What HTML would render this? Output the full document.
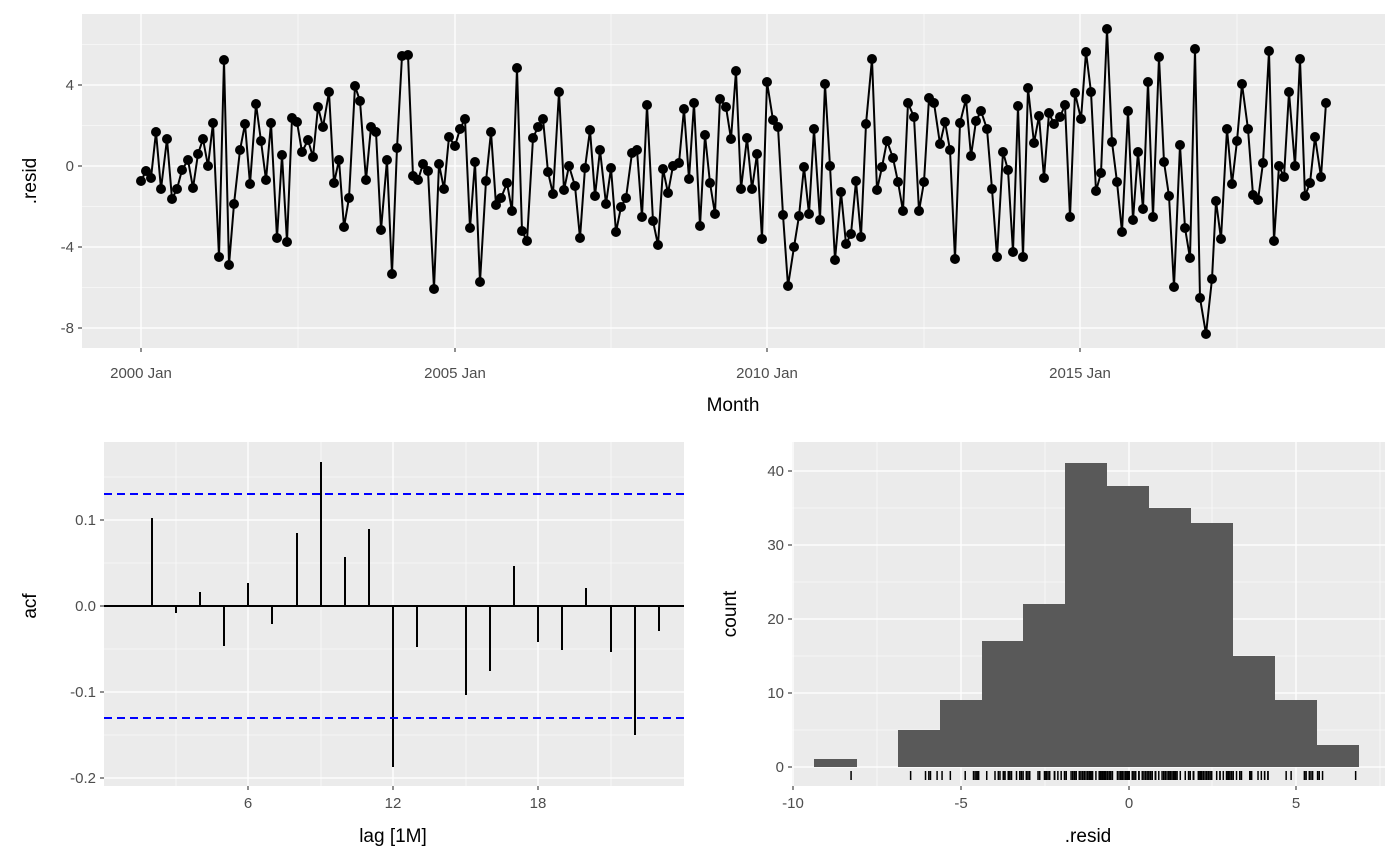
<!DOCTYPE html>
<html><head><meta charset="utf-8"><style>
html,body{margin:0;padding:0;background:#fff;}
svg{display:block;font-family:"Liberation Sans",sans-serif;}
.tk{font-size:15px;fill:#4d4d4d;}
.ti{font-size:19px;fill:#000;}
</style></head><body>
<svg id="s" width="1400" height="866" viewBox="0 0 1400 866" xmlns="http://www.w3.org/2000/svg">
<!-- top panel -->
<rect x="82" y="14" width="1303" height="334" fill="#ebebeb"/>
<g stroke="#fff" stroke-width="0.6">
<line x1="82" x2="1385" y1="44.5" y2="44.5"/><line x1="82" x2="1385" y1="125.5" y2="125.5"/><line x1="82" x2="1385" y1="206.5" y2="206.5"/><line x1="82" x2="1385" y1="287.5" y2="287.5"/>
<line y1="14" y2="348" x1="298" x2="298"/><line y1="14" y2="348" x1="611" x2="611"/><line y1="14" y2="348" x1="924" x2="924"/><line y1="14" y2="348" x1="1237" x2="1237"/>
</g>
<g stroke="#fff" stroke-width="1.3">
<line x1="82" x2="1385" y1="85" y2="85"/><line x1="82" x2="1385" y1="166" y2="166"/><line x1="82" x2="1385" y1="247" y2="247"/><line x1="82" x2="1385" y1="328" y2="328"/>
<line y1="14" y2="348" x1="141" x2="141"/><line y1="14" y2="348" x1="455" x2="455"/><line y1="14" y2="348" x1="767" x2="767"/><line y1="14" y2="348" x1="1080" x2="1080"/>
</g>
<g id="ts"></g>
<g stroke="#333" stroke-width="1.1">
<line x1="78" x2="82" y1="85" y2="85"/><line x1="78" x2="82" y1="166" y2="166"/><line x1="78" x2="82" y1="247" y2="247"/><line x1="78" x2="82" y1="328" y2="328"/>
<line y1="348" y2="352" x1="141" x2="141"/><line y1="348" y2="352" x1="455" x2="455"/><line y1="348" y2="352" x1="767" x2="767"/><line y1="348" y2="352" x1="1080" x2="1080"/>
</g>
<g class="tk" text-anchor="end">
<text x="74" y="90">4</text><text x="74" y="171">0</text><text x="74" y="252">-4</text><text x="74" y="333">-8</text>
</g>
<g class="tk" text-anchor="middle">
<text x="141" y="378">2000 Jan</text><text x="455" y="378">2005 Jan</text><text x="767" y="378">2010 Jan</text><text x="1080" y="378">2015 Jan</text>
</g>
<text class="ti" x="733" y="411" text-anchor="middle">Month</text>
<text class="ti" transform="translate(36,181) rotate(-90)" text-anchor="middle">.resid</text>

<!-- ACF panel -->
<rect x="104" y="442" width="580" height="344" fill="#ebebeb"/>
<g stroke="#fff" stroke-width="0.6">
<line x1="104" x2="684" y1="477" y2="477"/><line x1="104" x2="684" y1="563" y2="563"/><line x1="104" x2="684" y1="649" y2="649"/><line x1="104" x2="684" y1="735" y2="735"/>
<line y1="442" y2="786" x1="176" x2="176"/><line y1="442" y2="786" x1="321" x2="321"/><line y1="442" y2="786" x1="466" x2="466"/><line y1="442" y2="786" x1="611" x2="611"/>
</g>
<g stroke="#fff" stroke-width="1.3">
<line x1="104" x2="684" y1="520" y2="520"/><line x1="104" x2="684" y1="606" y2="606"/><line x1="104" x2="684" y1="692" y2="692"/><line x1="104" x2="684" y1="778" y2="778"/>
<line y1="442" y2="786" x1="248" x2="248"/><line y1="442" y2="786" x1="393" x2="393"/><line y1="442" y2="786" x1="538" x2="538"/>
</g>
<line x1="104" x2="684" y1="606" y2="606" stroke="#000" stroke-width="2"/>
<g stroke="#000" stroke-width="2">
<line x1="152" x2="152" y1="606" y2="518"/><line x1="176" x2="176" y1="606" y2="613"/><line x1="200" x2="200" y1="606" y2="592"/><line x1="224" x2="224" y1="606" y2="646"/><line x1="248" x2="248" y1="606" y2="583"/><line x1="272" x2="272" y1="606" y2="624"/><line x1="297" x2="297" y1="606" y2="533"/><line x1="321" x2="321" y1="606" y2="462"/><line x1="345" x2="345" y1="606" y2="557"/><line x1="369" x2="369" y1="606" y2="529"/><line x1="393" x2="393" y1="606" y2="767"/><line x1="417" x2="417" y1="606" y2="647"/><line x1="466" x2="466" y1="606" y2="695"/><line x1="490" x2="490" y1="606" y2="671"/><line x1="514" x2="514" y1="606" y2="566"/><line x1="538" x2="538" y1="606" y2="642"/><line x1="562" x2="562" y1="606" y2="650"/><line x1="586" x2="586" y1="606" y2="588"/><line x1="611" x2="611" y1="606" y2="652"/><line x1="635" x2="635" y1="606" y2="735"/><line x1="659" x2="659" y1="606" y2="631"/>
</g>
<g stroke="#0000ff" stroke-width="2" stroke-dasharray="8,5">
<line x1="104" x2="684" y1="494" y2="494"/><line x1="104" x2="684" y1="718" y2="718"/>
</g>
<g stroke="#333" stroke-width="1.1">
<line x1="100" x2="104" y1="520" y2="520"/><line x1="100" x2="104" y1="606" y2="606"/><line x1="100" x2="104" y1="692" y2="692"/><line x1="100" x2="104" y1="778" y2="778"/>
<line y1="786" y2="790" x1="248" x2="248"/><line y1="786" y2="790" x1="393" x2="393"/><line y1="786" y2="790" x1="538" x2="538"/>
</g>
<g class="tk" text-anchor="end">
<text x="96" y="525">0.1</text><text x="96" y="611">0.0</text><text x="96" y="697">-0.1</text><text x="96" y="783">-0.2</text>
</g>
<g class="tk" text-anchor="middle">
<text x="248" y="808">6</text><text x="393" y="808">12</text><text x="538" y="808">18</text>
</g>
<text class="ti" x="393" y="842" text-anchor="middle">lag [1M]</text>
<text class="ti" transform="translate(36,606) rotate(-90)" text-anchor="middle">acf</text>

<!-- Histogram panel -->
<rect x="792" y="442" width="593" height="344" fill="#ebebeb"/>
<g stroke="#fff" stroke-width="0.6">
<line x1="792" x2="1385" y1="730" y2="730"/><line x1="792" x2="1385" y1="656" y2="656"/><line x1="792" x2="1385" y1="582" y2="582"/><line x1="792" x2="1385" y1="508" y2="508"/>
<line y1="442" y2="786" x1="877" x2="877"/><line y1="442" y2="786" x1="1045" x2="1045"/><line y1="442" y2="786" x1="1212" x2="1212"/><line y1="442" y2="786" x1="1380" x2="1380"/>
</g>
<g stroke="#fff" stroke-width="1.3">
<line x1="792" x2="1385" y1="767" y2="767"/><line x1="792" x2="1385" y1="693" y2="693"/><line x1="792" x2="1385" y1="619" y2="619"/><line x1="792" x2="1385" y1="545" y2="545"/><line x1="792" x2="1385" y1="471" y2="471"/>
<line y1="442" y2="786" x1="793" x2="793"/><line y1="442" y2="786" x1="961" x2="961"/><line y1="442" y2="786" x1="1129" x2="1129"/><line y1="442" y2="786" x1="1296" x2="1296"/>
</g>
<g fill="#595959">
<rect x="814" y="759" width="43" height="8"/>
<rect x="898" y="730" width="42" height="37"/>
<rect x="940" y="700" width="42" height="67"/>
<rect x="982" y="641" width="41" height="126"/>
<rect x="1023" y="604" width="42" height="163"/>
<rect x="1065" y="463" width="42" height="304"/>
<rect x="1107" y="486" width="42" height="281"/>
<rect x="1149" y="508" width="42" height="259"/>
<rect x="1191" y="523" width="42" height="244"/>
<rect x="1233" y="656" width="42" height="111"/>
<rect x="1275" y="700" width="42" height="67"/>
<rect x="1317" y="745" width="42" height="22"/>
</g>
<g id="rug" stroke="#000" stroke-width="1.5"></g>
<g stroke="#333" stroke-width="1.1">
<line x1="788" x2="792" y1="767" y2="767"/><line x1="788" x2="792" y1="693" y2="693"/><line x1="788" x2="792" y1="619" y2="619"/><line x1="788" x2="792" y1="545" y2="545"/><line x1="788" x2="792" y1="471" y2="471"/>
<line y1="786" y2="790" x1="793" x2="793"/><line y1="786" y2="790" x1="961" x2="961"/><line y1="786" y2="790" x1="1129" x2="1129"/><line y1="786" y2="790" x1="1296" x2="1296"/>
</g>
<g class="tk" text-anchor="end">
<text x="784" y="772">0</text><text x="784" y="698">10</text><text x="784" y="624">20</text><text x="784" y="550">30</text><text x="784" y="476">40</text>
</g>
<g class="tk" text-anchor="middle">
<text x="793" y="808">-10</text><text x="961" y="808">-5</text><text x="1129" y="808">0</text><text x="1296" y="808">5</text>
</g>
<text class="ti" x="1088" y="842" text-anchor="middle">.resid</text>
<text class="ti" transform="translate(736,614) rotate(-90)" text-anchor="middle">count</text>
</svg>
<script>
var p=[141,181,146,171,151,178,156,132,161,189,167,139,172,199,177,189,182,170,188,160,193,188,198,154,203,139,208,166,213,123,219,257,224,60,229,265,234,204,240,150,245,124,250,184,256,104,261,141,266,180,271,123,277,238,282,155,287,242,292,118,297,122,302,152,308,140,313,157,318,107,323,127,329,92,334,183,339,160,344,227,349,198,
355,86,360,101,366,180,371,127,376,132,381,230,387,160,392,274,397,148,402,56,408,55,413,176,418,180,423,164,428,171,434,289,439,164,444,189,449,137,455,146,460,129,465,119,470,228,475,162,480,282,486,181,491,132,496,205,501,198,507,183,512,211,517,68,522,231,527,241,533,138,538,127,543,119,548,172,553,194,559,92,564,190,
569,166,575,186,580,238,585,168,590,130,595,196,600,150,606,204,611,168,616,232,621,207,626,198,632,153,637,150,642,217,647,105,653,221,658,245,663,169,668,193,673,166,679,163,684,109,689,179,694,103,700,226,705,135,710,183,715,214,720,99,726,107,731,139,736,71,741,189,747,138,752,189,757,154,762,239,767,82,773,120,778,127,
783,215,788,286,794,247,799,216,804,167,809,214,814,129,820,220,825,84,830,166,835,260,841,192,846,244,851,234,856,181,861,237,866,124,872,59,877,190,882,167,887,141,893,158,898,182,903,211,908,103,914,117,919,211,924,182,929,98,934,103,940,144,945,122,950,150,955,259,960,123,966,99,971,156,976,121,981,111,987,129,992,189,
997,257,1003,152,1008,170,1013,252,1018,106,1023,257,1028,88,1034,143,1039,116,1044,178,1049,113,1054,124,1060,117,1065,105,1070,217,1075,93,1081,119,1086,52,1091,92,1096,191,1101,173,1107,29,1112,142,1117,182,1122,232,1128,111,1133,220,1138,152,1143,209,1148,82,1153,217,1159,57,1164,162,1169,196,1174,287,1180,145,1185,228,1190,258,1195,49,1200,298,1206,334,
1212,279,1216,201,1221,239,1227,129,1232,184,1237,141,1242,84,1248,129,1253,195,1258,200,1263,163,1269,51,1274,241,1279,166,1284,177,1289,92,1295,166,1300,59,1305,196,1310,183,1315,137,1321,177,1326,103];
var NS="http://www.w3.org/2000/svg",g=document.getElementById("ts"),r=document.getElementById("rug");
var pts=[];for(var i=0;i<p.length;i+=2)pts.push(p[i]+","+p[i+1]);
var pl=document.createElementNS(NS,"polyline");pl.setAttribute("points",pts.join(" "));pl.setAttribute("fill","none");pl.setAttribute("stroke","#000");pl.setAttribute("stroke-width","2");g.appendChild(pl);
for(var i=0;i<p.length;i+=2){var c=document.createElementNS(NS,"circle");c.setAttribute("cx",p[i]);c.setAttribute("cy",p[i+1]);c.setAttribute("r","5");c.setAttribute("fill","#000");g.appendChild(c);
var v=(166-p[i+1])/20.25,x=1129+v*33.5;var l=document.createElementNS(NS,"line");l.setAttribute("x1",x);l.setAttribute("x2",x);l.setAttribute("y1",771);l.setAttribute("y2",780);r.appendChild(l);}
</script>
</body></html>
